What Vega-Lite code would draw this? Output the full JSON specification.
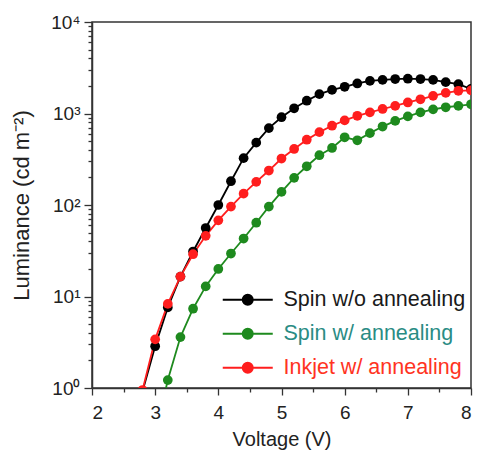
{
  "$schema": "https://vega.github.io/schema/vega-lite/v6.json",
  "width": 379,
  "height": 366,
  "autosize": "none",
  "padding": {"left": 92, "top": 22, "right": 7, "bottom": 71},
  "config": {
    "font": "Liberation Sans",
    "view": {"stroke": "#333", "strokeWidth": 1.5},
    "axis": {
      "grid": false,
      "domainColor": "#333",
      "domainWidth": 1.5,
      "tickColor": "#333",
      "tickWidth": 1.3,
      "labelColor": "#222",
      "labelFontSize": 19,
      "titleFontSize": 20,
      "titleFontWeight": "normal",
      "titleColor": "#222"
    }
  },
  "data": {
    "values": [
      {"s": "Spin w/o annealing", "V": 2.8, "L": 0.92},
      {"s": "Spin w/o annealing", "V": 3.0, "L": 2.86},
      {"s": "Spin w/o annealing", "V": 3.2, "L": 7.6},
      {"s": "Spin w/o annealing", "V": 3.4, "L": 16.5},
      {"s": "Spin w/o annealing", "V": 3.6, "L": 31},
      {"s": "Spin w/o annealing", "V": 3.8, "L": 56},
      {"s": "Spin w/o annealing", "V": 4.0, "L": 100},
      {"s": "Spin w/o annealing", "V": 4.2, "L": 182},
      {"s": "Spin w/o annealing", "V": 4.4, "L": 325},
      {"s": "Spin w/o annealing", "V": 4.6, "L": 480},
      {"s": "Spin w/o annealing", "V": 4.8, "L": 693},
      {"s": "Spin w/o annealing", "V": 5.0, "L": 910},
      {"s": "Spin w/o annealing", "V": 5.2, "L": 1140},
      {"s": "Spin w/o annealing", "V": 5.4, "L": 1380},
      {"s": "Spin w/o annealing", "V": 5.6, "L": 1630},
      {"s": "Spin w/o annealing", "V": 5.8, "L": 1810},
      {"s": "Spin w/o annealing", "V": 6.0, "L": 1960},
      {"s": "Spin w/o annealing", "V": 6.2, "L": 2130},
      {"s": "Spin w/o annealing", "V": 6.4, "L": 2270},
      {"s": "Spin w/o annealing", "V": 6.6, "L": 2330},
      {"s": "Spin w/o annealing", "V": 6.8, "L": 2380},
      {"s": "Spin w/o annealing", "V": 7.0, "L": 2400},
      {"s": "Spin w/o annealing", "V": 7.2, "L": 2380},
      {"s": "Spin w/o annealing", "V": 7.4, "L": 2330},
      {"s": "Spin w/o annealing", "V": 7.6, "L": 2200},
      {"s": "Spin w/o annealing", "V": 7.8, "L": 2090},
      {"s": "Spin w/o annealing", "V": 8.0, "L": 1860},
      {"s": "Spin w/ annealing", "V": 3.0, "L": 0.3},
      {"s": "Spin w/ annealing", "V": 3.2, "L": 1.22},
      {"s": "Spin w/ annealing", "V": 3.4, "L": 3.6},
      {"s": "Spin w/ annealing", "V": 3.6, "L": 7.35},
      {"s": "Spin w/ annealing", "V": 3.8, "L": 12.9},
      {"s": "Spin w/ annealing", "V": 4.0, "L": 20},
      {"s": "Spin w/ annealing", "V": 4.2, "L": 29.5},
      {"s": "Spin w/ annealing", "V": 4.4, "L": 43},
      {"s": "Spin w/ annealing", "V": 4.6, "L": 64},
      {"s": "Spin w/ annealing", "V": 4.8, "L": 96},
      {"s": "Spin w/ annealing", "V": 5.0, "L": 139},
      {"s": "Spin w/ annealing", "V": 5.2, "L": 198},
      {"s": "Spin w/ annealing", "V": 5.4, "L": 265},
      {"s": "Spin w/ annealing", "V": 5.6, "L": 350},
      {"s": "Spin w/ annealing", "V": 5.8, "L": 420},
      {"s": "Spin w/ annealing", "V": 6.0, "L": 550},
      {"s": "Spin w/ annealing", "V": 6.2, "L": 510},
      {"s": "Spin w/ annealing", "V": 6.4, "L": 610},
      {"s": "Spin w/ annealing", "V": 6.6, "L": 720},
      {"s": "Spin w/ annealing", "V": 6.8, "L": 830},
      {"s": "Spin w/ annealing", "V": 7.0, "L": 930},
      {"s": "Spin w/ annealing", "V": 7.2, "L": 1030},
      {"s": "Spin w/ annealing", "V": 7.4, "L": 1110},
      {"s": "Spin w/ annealing", "V": 7.6, "L": 1170},
      {"s": "Spin w/ annealing", "V": 7.8, "L": 1210},
      {"s": "Spin w/ annealing", "V": 8.0, "L": 1260},
      {"s": "Inkjet w/ annealing", "V": 2.8, "L": 0.95},
      {"s": "Inkjet w/ annealing", "V": 3.0, "L": 3.4},
      {"s": "Inkjet w/ annealing", "V": 3.2, "L": 8.3},
      {"s": "Inkjet w/ annealing", "V": 3.4, "L": 16.5},
      {"s": "Inkjet w/ annealing", "V": 3.6, "L": 29},
      {"s": "Inkjet w/ annealing", "V": 3.8, "L": 46},
      {"s": "Inkjet w/ annealing", "V": 4.0, "L": 68},
      {"s": "Inkjet w/ annealing", "V": 4.2, "L": 96},
      {"s": "Inkjet w/ annealing", "V": 4.4, "L": 133},
      {"s": "Inkjet w/ annealing", "V": 4.6, "L": 179},
      {"s": "Inkjet w/ annealing", "V": 4.8, "L": 238},
      {"s": "Inkjet w/ annealing", "V": 5.0, "L": 322},
      {"s": "Inkjet w/ annealing", "V": 5.2, "L": 410},
      {"s": "Inkjet w/ annealing", "V": 5.4, "L": 517},
      {"s": "Inkjet w/ annealing", "V": 5.6, "L": 626},
      {"s": "Inkjet w/ annealing", "V": 5.8, "L": 735},
      {"s": "Inkjet w/ annealing", "V": 6.0, "L": 840},
      {"s": "Inkjet w/ annealing", "V": 6.2, "L": 944},
      {"s": "Inkjet w/ annealing", "V": 6.4, "L": 1030},
      {"s": "Inkjet w/ annealing", "V": 6.6, "L": 1120},
      {"s": "Inkjet w/ annealing", "V": 6.8, "L": 1210},
      {"s": "Inkjet w/ annealing", "V": 7.0, "L": 1320},
      {"s": "Inkjet w/ annealing", "V": 7.2, "L": 1430},
      {"s": "Inkjet w/ annealing", "V": 7.4, "L": 1560},
      {"s": "Inkjet w/ annealing", "V": 7.6, "L": 1680},
      {"s": "Inkjet w/ annealing", "V": 7.8, "L": 1770},
      {"s": "Inkjet w/ annealing", "V": 8.0, "L": 1790}
    ]
  },
  "encoding": {
    "x": {
      "field": "V",
      "type": "quantitative",
      "scale": {"domain": [2, 8], "nice": false, "zero": false},
      "axis": {
        "title": "Voltage (V)",
        "values": [2, 2.5, 3, 3.5, 4, 4.5, 5, 5.5, 6, 6.5, 7, 7.5, 8],
        "labelExpr": "datum.value % 1 == 0 ? format(datum.value, 'd') : ''",
        "tickSize": {"condition": {"test": "datum.value % 1 == 0", "value": 7}, "value": 4},
        "labelPadding": 8,
        "titlePadding": 7
      }
    },
    "y": {
      "field": "L",
      "type": "quantitative",
      "scale": {"type": "log", "domain": [1, 10000], "nice": false},
      "axis": {
        "title": "Luminance (cd m⁻²)",
        "titleFontSize": 22,
        "values": [1, 2, 3, 4, 5, 6, 7, 8, 9, 10, 20, 30, 40, 50, 60, 70, 80, 90, 100, 200, 300, 400, 500, 600, 700, 800, 900, 1000, 2000, 3000, 4000, 5000, 6000, 7000, 8000, 9000, 10000],
        "labelExpr": "indexof([1,10,100,1000,10000], datum.value) >= 0 ? '10' + ['⁰','¹','²','³','⁴'][indexof([1,10,100,1000,10000], datum.value)] : ''",
        "tickSize": {"condition": {"test": "indexof([1,10,100,1000,10000], datum.value) >= 0", "value": 8}, "value": 4},
        "labelPadding": 4,
        "titlePadding": 17
      }
    },
    "color": {
      "field": "s",
      "type": "nominal",
      "sort": ["Spin w/o annealing", "Spin w/ annealing", "Inkjet w/ annealing"],
      "scale": {
        "domain": ["Spin w/o annealing", "Spin w/ annealing", "Inkjet w/ annealing"],
        "range": ["#000000", "#1e8a1e", "#ff1e1e"]
      },
      "legend": {
        "title": null,
        "orient": "none",
        "legendX": 145,
        "legendY": 267,
        "padding": 0,
        "symbolType": "M-5,0L5,0M1,0A1,1,0,1,1,-1,0A1,1,0,1,1,1,0Z",
        "symbolSize": 100,
        "symbolStrokeWidth": 2,
        "labelFontSize": 21.5,
        "labelOffset": 25,
        "rowPadding": 11,
        "labelLimit": 400,
        "encode": {
          "symbols": {"update": {"fill": {"scale": "color", "field": "value"}, "stroke": {"scale": "color", "field": "value"}, "strokeWidth": {"value": 2}, "opacity": {"value": 1}}},
          "labels": {"update": {"fill": {"signal": "datum.value == 'Spin w/ annealing' ? '#2a8c84' : datum.value == 'Inkjet w/ annealing' ? '#ff3322' : '#1a1a1a'"}}}
        }
      }
    }
  },
  "layer": [
    {"mark": {"type": "line", "strokeWidth": 1.8, "clip": true}},
    {"mark": {"type": "point", "filled": true, "size": 95, "opacity": 1, "clip": true}}
  ]
}
